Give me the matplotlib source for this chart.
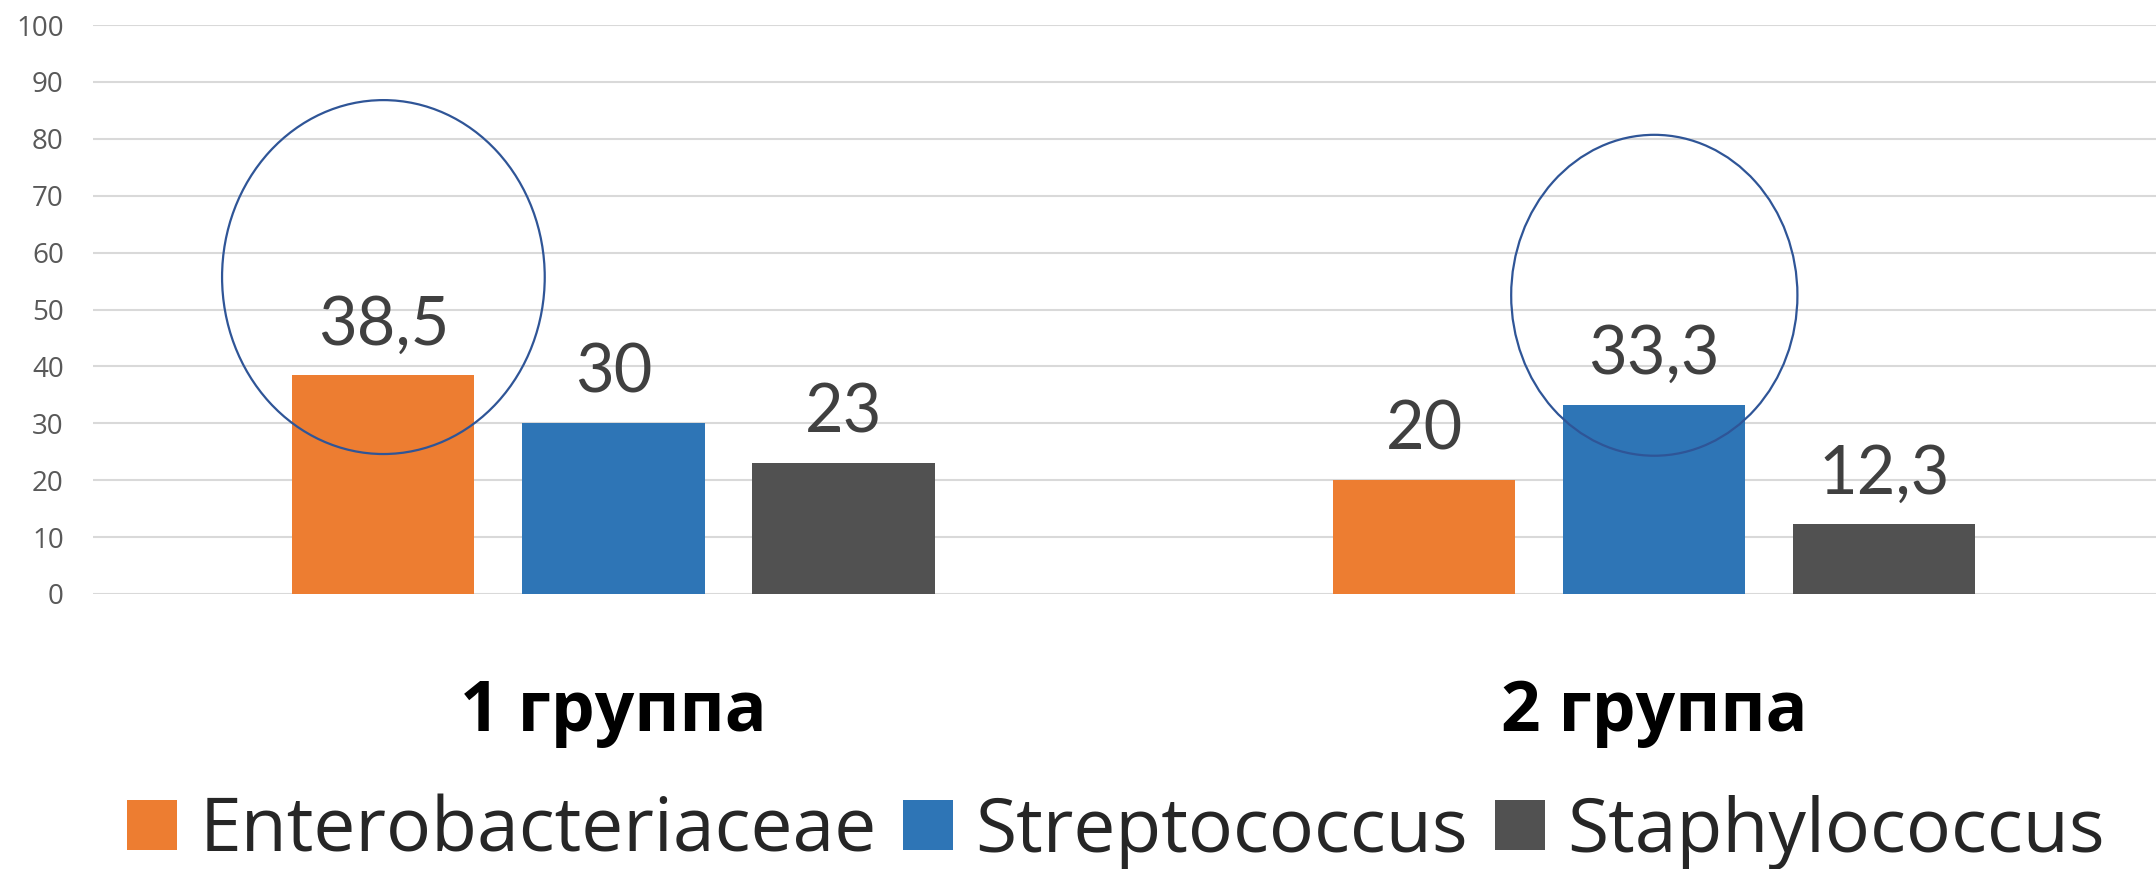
import numpy as np
import matplotlib.pyplot as plt
from matplotlib.patches import Ellipse

# Data
groups = ["1 группа", "2 группа"]
series = ["Enterobacteriaceae", "Streptococcus", "Staphylococcus"]
entero = [38.5, 20]
strepto = [30, 33.3]
staphylo = [23, 12.3]
colors = ["#ED7D31", "#2E75B6", "#515151"]

# Highlighted bars (group index, series index)
highlights = [(0, 0), (1, 1)]


def fmt(v):
    s = f"{v:g}"
    return s.replace(".", ",")


def main():
    plt.rcParams['font.family'] = ['Open Sans', 'DejaVu Sans']
    fig = plt.figure(figsize=(21.56, 8.69), dpi=100)
    ax = fig.add_axes([93 / 2156, 1 - 594 / 869, 1 - 93 / 2156, 569 / 869])

    x = np.arange(len(groups))
    width = 0.175
    step = 0.221
    values = [entero, strepto, staphylo]

    bar_sets = []
    for i, (name, vals, c) in enumerate(zip(series, values, colors)):
        bars = ax.bar(x + (i - 1) * step, vals, width, color=c, label=name, zorder=2)
        bar_sets.append(bars)
        for b, v in zip(bars, vals):
            ax.annotate(fmt(v), (b.get_x() + b.get_width() / 2, v),
                        xytext=(0, 22), textcoords='offset points',
                        ha='center', va='baseline', fontsize=48,
                        family=['Lato', 'DejaVu Sans'], color='#404040')

    # ellipses around the highlighted bars
    ellipse_y = [55.7, 52.5]
    ellipse_w = [0.310, 0.275]
    ellipse_h = [62.2, 56.4]
    for k, (g, s) in enumerate(highlights):
        b = bar_sets[s][g]
        cx = b.get_x() + b.get_width() / 2
        e = Ellipse((cx, ellipse_y[k]), ellipse_w[k], ellipse_h[k],
                    fill=False, edgecolor='#2F5597', lw=1.6, zorder=3)
        ax.add_patch(e)

    ax.set_ylim(0, 100)
    ax.set_xlim(-0.5, 1.482)
    ax.set_yticks(np.arange(0, 101, 10))
    ax.yaxis.grid(True, color='#D9D9D9', lw=1.5, zorder=0)
    ax.set_axisbelow(True)
    for sp in ax.spines.values():
        sp.set_visible(False)
    ax.tick_params(axis='y', length=0, pad=21, labelsize=20, labelcolor='#595959')

    ax.set_xticks(x)
    ax.set_xticklabels(groups, fontsize=50, fontweight='bold', color='black')
    for lbl in ax.get_xticklabels():
        lbl.set_verticalalignment('baseline')
    ax.tick_params(axis='x', length=0, pad=99)

    leg = fig.legend(loc='center', bbox_to_anchor=(0.5176, 1 - 832 / 869), ncol=3,
                     frameon=False, fontsize=54, handlelength=0.66, handleheight=0.66,
                     handletextpad=0.3, columnspacing=0.36, borderpad=0)
    for t in leg.get_texts():
        t.set_color('#262626')

    fig.savefig("out.png", dpi=100)


if __name__ == "__main__":
    main()
